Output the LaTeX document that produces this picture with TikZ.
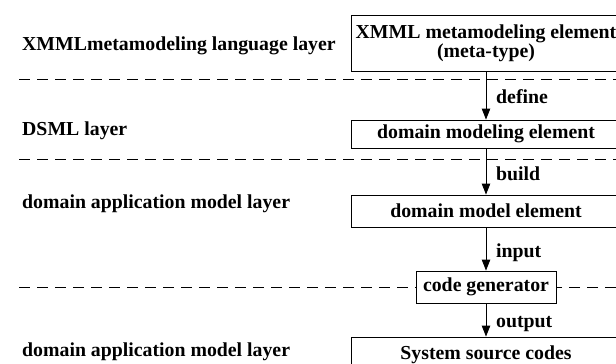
\documentclass[tikz,border=0pt]{standalone}
\usepackage{fontspec}
\setmainfont{Liberation Serif}
\usetikzlibrary{arrows.meta}
\begin{document}
\begin{tikzpicture}[x=1pt,y=-1pt,
  txt/.style={font=\bfseries\fontsize{19.8}{20}\selectfont, inner sep=0pt},
  box/.style={draw, line width=0.9pt, font=\bfseries\fontsize{19.8}{20}\selectfont, inner sep=0pt, align=center},
  conn/.style={line width=0.9pt, -{Triangle[length=11pt,width=8.5pt]}},
  sep/.style={line width=0.9pt, dash pattern=on 11pt off 7pt}]
\useasboundingbox (0,0) rectangle (616,364);
\clip (0,0) rectangle (616,364);
% left labels
\node[txt, anchor=base west] (l1) at (22,50) {XMMLmetamodeling language layer};
\node[txt, anchor=base west] (l2) at (22,135) {DSML layer};
\node[txt, anchor=base west] (l3) at (22,208) {domain application model layer};
\node[txt, anchor=base west] (l4) at (22,356) {domain application model layer};
% boxes
\node[box, minimum width=270pt, minimum height=56pt] (b1) at (486,43) {XMML metamodeling element\\[-1pt](meta-type)};
\node[box, minimum width=270pt, minimum height=28pt] (b2) at (486,134) {domain modeling element};
\node[box, minimum width=270pt, minimum height=32pt] (b3) at (486,211) {domain model element};
\node[box, minimum width=140pt, minimum height=32pt] (cg) at (486,287) {code generator};
\node[box, minimum width=270pt, minimum height=36pt] (b4) at (486,355) {System source codes};
% dashed separators
\coordinate (d1a) at (19,79); \coordinate (d1b) at (616,79);
\coordinate (d2a) at (19,159); \coordinate (d2b) at (616,159);
\coordinate (d3a) at (19,287); \coordinate (d3b) at (616,287);
\draw[sep] (d1a) -- (d1b);
\draw[sep] (d2a) -- (d2b);
\draw[sep] (d3a) -- (cg.west);
\draw[sep] (d3b) -- (cg.east);
% arrows
\draw[conn] (b1.south) -- (b2.north);
\draw[conn] (b2.south) -- (b3.north);
\draw[conn] (b3.south) -- (cg.north);
\draw[conn] (cg.south) -- (b4.north);
% arrow labels
\node[txt, anchor=base west] (t1) at (496,103) {define};
\node[txt, anchor=base west] (t2) at (496,180) {build};
\node[txt, anchor=base west] (t3) at (496,257) {input};
\node[txt, anchor=base west] (t4) at (496,327) {output};
\end{tikzpicture}
\end{document}
